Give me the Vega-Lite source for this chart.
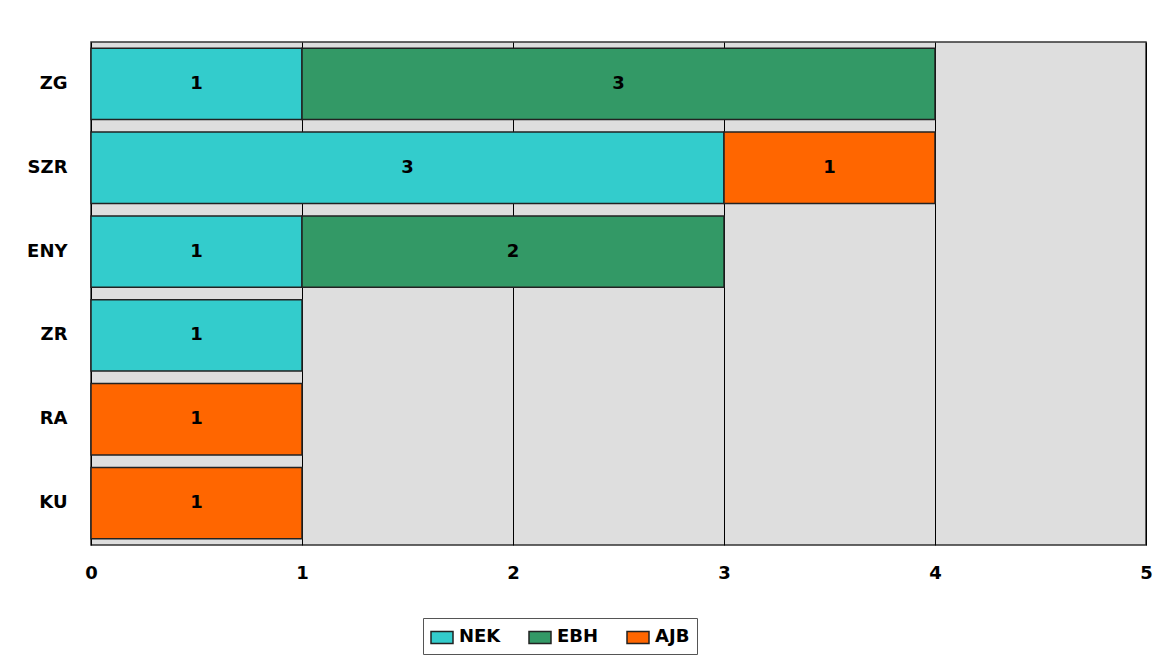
{
  "$schema": "https://vega.github.io/schema/vega-lite/v6.json",
  "width": 1055,
  "height": 503,
  "autosize": "none",
  "padding": {"left": 91, "top": 42, "right": 18, "bottom": 114},
  "background": "white",
  "data": {"values": [
    {"cat": "ZG", "series": "NEK", "o": 1, "v": 1},
    {"cat": "ZG", "series": "EBH", "o": 2, "v": 3},
    {"cat": "SZR", "series": "NEK", "o": 1, "v": 3},
    {"cat": "SZR", "series": "AJB", "o": 3, "v": 1},
    {"cat": "ENY", "series": "NEK", "o": 1, "v": 1},
    {"cat": "ENY", "series": "EBH", "o": 2, "v": 2},
    {"cat": "ZR", "series": "NEK", "o": 1, "v": 1},
    {"cat": "RA", "series": "AJB", "o": 3, "v": 1},
    {"cat": "KU", "series": "AJB", "o": 3, "v": 1}
  ]},
  "encoding": {
    "y": {
      "field": "cat", "type": "nominal",
      "sort": ["ZG", "SZR", "ENY", "ZR", "RA", "KU"],
      "scale": {"paddingInner": 0.15, "paddingOuter": 0.075},
      "axis": {"title": null, "ticks": false, "domain": false, "labelPadding": 24,
               "labelFont": "DejaVu Sans", "labelFontWeight": "bold", "labelFontSize": 18, "labelColor": "black"}
    },
    "x": {
      "field": "v", "type": "quantitative", "stack": "zero",
      "scale": {"domain": [0, 5], "nice": false},
      "axis": {"title": null, "values": [0, 1, 2, 3, 4, 5], "ticks": false, "domain": false,
               "grid": true, "gridColor": "black", "gridWidth": 1, "gridOpacity": 1,
               "labelPadding": 19, "labelFlush": false,
               "labelFont": "DejaVu Sans", "labelFontWeight": "bold", "labelFontSize": 18, "labelColor": "black"}
    },
    "order": {"field": "o", "type": "quantitative"},
    "detail": {"field": "series"}
  },
  "layer": [
    {
      "mark": {"type": "bar", "stroke": "#222222", "strokeWidth": 1.5},
      "encoding": {
        "color": {
          "field": "series", "type": "nominal",
          "scale": {"domain": ["NEK", "EBH", "AJB"], "range": ["#33CCCC", "#339966", "#FF6600"]},
          "legend": {
            "title": null, "orient": "none", "direction": "horizontal",
            "legendX": 332, "legendY": 576,
            "strokeColor": "#555555", "padding": 7,
            "symbolType": "M-1,-0.55H1V0.55H-1Z", "symbolSize": 484,
            "symbolStrokeColor": "#222222", "symbolStrokeWidth": 1.5,
            "labelFont": "DejaVu Sans", "labelFontWeight": "bold", "labelFontSize": 18, "labelColor": "black",
            "columnPadding": 25, "labelOffset": 5
          }
        }
      }
    },
    {
      "mark": {"type": "text", "font": "DejaVu Sans", "fontWeight": "bold", "fontSize": 18, "color": "black"},
      "encoding": {
        "x": {"field": "v", "type": "quantitative", "stack": "zero", "bandPosition": 0.5},
        "text": {"field": "v", "type": "quantitative"}
      }
    }
  ],
  "config": {
    "view": {"fill": "#DEDEDE", "stroke": "#333333", "strokeWidth": 1.5}
  }
}
